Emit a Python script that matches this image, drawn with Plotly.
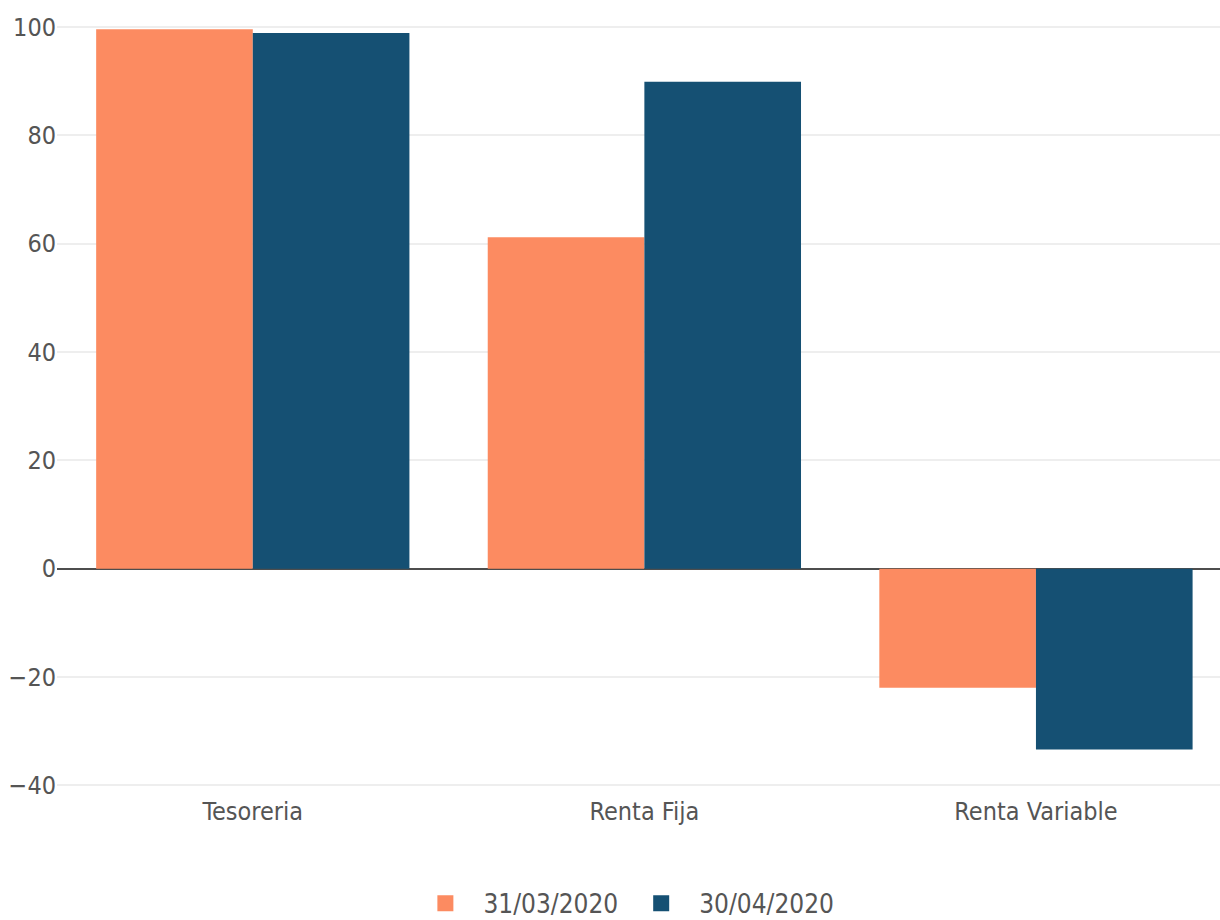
import plotly.graph_objects as go

categories = ["Tesoreria", "Renta Fija", "Renta Variable"]
serie_marzo = [99.6, 61.2, -22.0]
serie_abril = [98.9, 89.9, -33.4]
series_names = ["31/03/2020", "30/04/2020"]
series_colors = ["#FC8B61", "#155073"]
tick_vals = [-40, -20, 0, 20, 40, 60, 80, 100]

font_family = "DejaVu Sans Condensed, DejaVu Sans, sans-serif"
text_color = "#555555"

fig = go.Figure()
for name, vals, col in zip(series_names, [serie_marzo, serie_abril], series_colors):
    fig.add_trace(go.Bar(x=categories, y=vals, name=name, legendgroup=name,
                         showlegend=False, marker=dict(color=col, line=dict(width=0))))
# legend entries with larger square swatches
for name, col in zip(series_names, series_colors):
    fig.add_trace(go.Scatter(x=[None], y=[None], mode="markers", name=name,
                             legendgroup=name,
                             marker=dict(symbol="square", size=16, color=col)))

fig.update_layout(
    width=1220, height=920,
    barmode="group", bargap=0.2, bargroupgap=0,
    plot_bgcolor="white", paper_bgcolor="white",
    margin=dict(l=57, r=0, t=0, b=132, autoexpand=False),
    font=dict(family=font_family, size=24, color=text_color),
    showlegend=True,
    legend=dict(orientation="h", x=0.487, xanchor="center",
                yref="container", y=0.018, yanchor="middle",
                font=dict(size=26, color=text_color), traceorder="normal",
                itemsizing="trace", itemwidth=66),
)
fig.update_xaxes(showgrid=False, showline=False, ticks="", range=[-0.5, 2.47],
                 ticklabelstandoff=6,
                 tickfont=dict(size=25, color=text_color))
fig.update_yaxes(range=[-40.5, 105], tickvals=tick_vals, showgrid=True,
                 gridcolor="#EEEEEE", gridwidth=1.5, zeroline=True,
                 zerolinecolor="#4D4D4D", zerolinewidth=2,
                 ticks="", tickfont=dict(size=25, color=text_color))

fig.write_html("out.html")
